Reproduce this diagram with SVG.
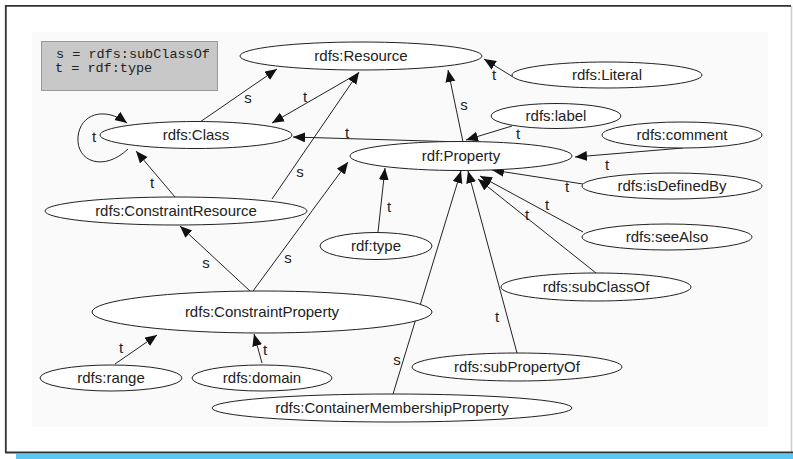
<svg xmlns="http://www.w3.org/2000/svg" width="793" height="459" viewBox="0 0 793 459">
<defs>
<marker id="ah" markerUnits="userSpaceOnUse" markerWidth="13" markerHeight="11" refX="12" refY="5" orient="auto">
<path d="M0,0 L12,5 L0,10 z" fill="#111"/>
</marker>
<style>
.n ellipse{fill:#fff;stroke:#222;stroke-width:1}
.n text{font-family:"Liberation Sans",Arial,sans-serif;font-size:15px;fill:#222;text-anchor:middle}
#edges path{fill:none;stroke:#222;stroke-width:1;marker-end:url(#ah)}
#edges text{font-family:"Liberation Sans",Arial,sans-serif;font-size:15px;fill:#222;text-anchor:middle}
.leg{font-family:"Liberation Mono","Courier New",monospace;font-size:13.5px;fill:#222}
</style>
</defs>
<rect x="0" y="0" width="793" height="459" fill="#fff"/>
<rect x="32" y="32" width="736" height="395" fill="#fafafa"/>
<line x1="791.5" y1="6" x2="791.5" y2="452" stroke="#ccc" stroke-width="1.5"/>
<path d="M5.8,453 V5.8 H791" fill="none" stroke="#333" stroke-width="1.8"/>
<line x1="5" y1="452.5" x2="793" y2="452.5" stroke="#333" stroke-width="1.8"/>
<rect x="16" y="454" width="777" height="5" fill="#5cc8ef"/>

<g id="legend">
<rect x="41.5" y="41.5" width="176" height="49" fill="#c8c8c8" stroke="#999" stroke-width="1"/>
<text class="leg" x="56" y="58">s = rdfs:subClassOf</text>
<text class="leg" x="55" y="72">t = rdf:type</text>
</g>

<g id="edges">
<path d="M200,122 L277,69"/><text x="248" y="103">s</text>
<path d="M357,74 L272,123"/><text x="305" y="102">t</text>
<path d="M128,149 C104,172 76,162 78,137 C80,114 104,106 127,123"/><text x="94" y="142">t</text>
<path d="M175,197 L136,151"/><text x="152" y="188">t</text>
<path d="M272,199 L359,72"/><text x="300" y="177">s</text>
<path d="M462,142 L293,137"/><text x="347" y="138">t</text>
<path d="M463,142 L448,70"/><text x="464" y="110">s</text>
<path d="M513,77 L484,59"/><text x="494" y="80">t</text>
<path d="M512,126 L466,140"/><text x="518" y="139">t</text>
<path d="M683,148 L575,157"/><text x="607" y="170">t</text>
<path d="M583,184 L492,170"/><text x="567" y="192">t</text>
<path d="M583,232 L480,176"/><text x="547" y="210">t</text>
<path d="M596,273 L478,179"/><text x="527" y="220">t</text>
<path d="M517,353 L468,171"/><text x="497" y="322">t</text>
<path d="M393,394 L461,171"/><text x="397" y="365">s</text>
<path d="M378,232 L385,168"/><text x="389" y="212">t</text>
<path d="M250,291 L180,226"/><text x="206" y="268">s</text>
<path d="M253,291 L348,162"/><text x="288" y="263">s</text>
<path d="M115,364 L157,335"/><text x="121" y="353">t</text>
<path d="M262,363 L254,334"/><text x="265" y="355">t</text>
</g>

<g id="n-resource" class="n"><ellipse cx="361" cy="56" rx="121" ry="14"/><text x="361" y="61">rdfs:Resource</text></g>
<g id="n-literal" class="n"><ellipse cx="607" cy="75" rx="95" ry="13"/><text x="607" y="80">rdfs:Literal</text></g>
<g id="n-class" class="n"><ellipse cx="196" cy="135" rx="96" ry="13.5"/><text x="196" y="140">rdfs:Class</text></g>
<g id="n-label" class="n"><ellipse cx="556" cy="116" rx="65" ry="12.5"/><text x="556" y="121">rdfs:label</text></g>
<g id="n-comment" class="n"><ellipse cx="682" cy="135" rx="80" ry="13"/><text x="682" y="140">rdfs:comment</text></g>
<g id="n-property" class="n"><ellipse cx="461" cy="156" rx="111" ry="14.5"/><text x="461" y="161">rdf:Property</text></g>
<g id="n-isdefinedby" class="n"><ellipse cx="672" cy="186" rx="90" ry="13"/><text x="672" y="191">rdfs:isDefinedBy</text></g>
<g id="n-seealso" class="n"><ellipse cx="667" cy="237" rx="85" ry="13"/><text x="667" y="242">rdfs:seeAlso</text></g>
<g id="n-subclassof" class="n"><ellipse cx="596" cy="287" rx="95" ry="14"/><text x="596" y="292">rdfs:subClassOf</text></g>
<g id="n-constraintresource" class="n"><ellipse cx="176" cy="211" rx="131" ry="14"/><text x="176" y="216">rdfs:ConstraintResource</text></g>
<g id="n-type" class="n"><ellipse cx="376" cy="246" rx="56" ry="13.5"/><text x="376" y="251">rdf:type</text></g>
<g id="n-constraintproperty" class="n"><ellipse cx="262" cy="312" rx="170" ry="21"/><text x="262" y="317">rdfs:ConstraintProperty</text></g>
<g id="n-range" class="n"><ellipse cx="111" cy="378" rx="71" ry="13"/><text x="111" y="383">rdfs:range</text></g>
<g id="n-domain" class="n"><ellipse cx="262" cy="378" rx="70" ry="13"/><text x="262" y="383">rdfs:domain</text></g>
<g id="n-subpropertyof" class="n"><ellipse cx="517" cy="367" rx="105" ry="14"/><text x="517" y="372">rdfs:subPropertyOf</text></g>
<g id="n-containermembershipproperty" class="n"><ellipse cx="392" cy="408" rx="180" ry="14"/><text x="392" y="413">rdfs:ContainerMembershipProperty</text></g>
</svg>
